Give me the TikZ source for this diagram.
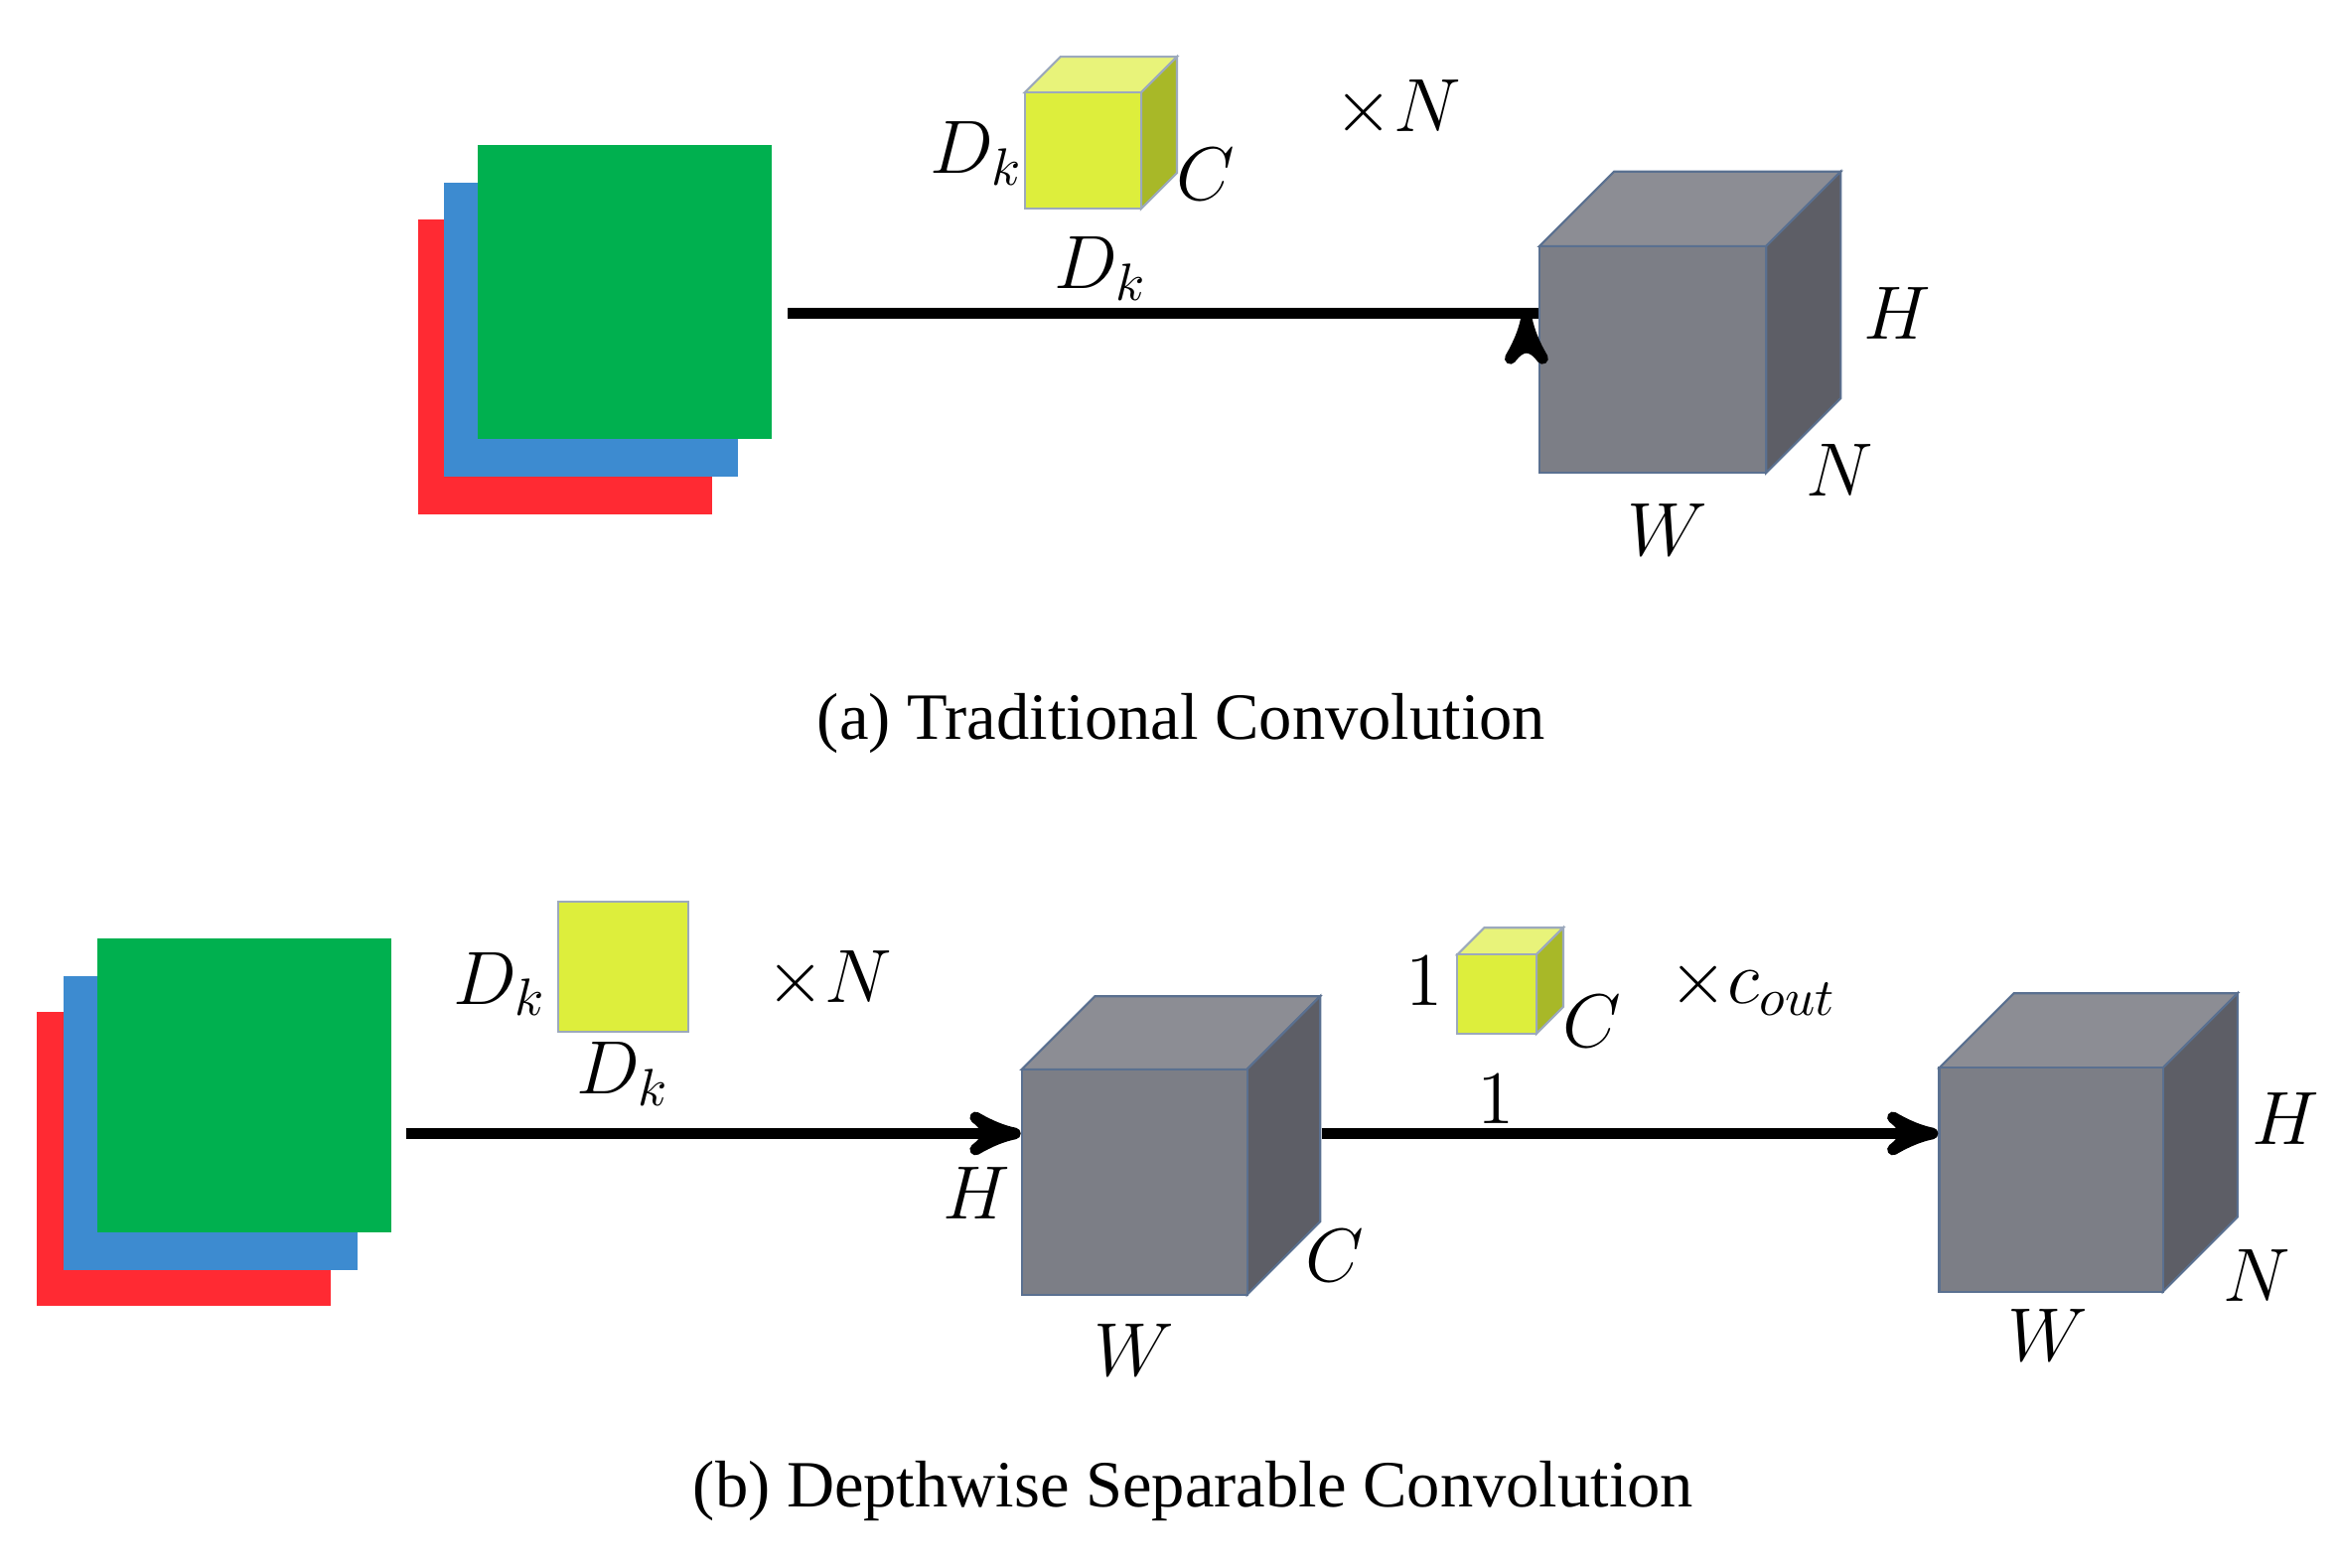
\documentclass[tikz,border=0pt]{standalone}
\usepackage{amsmath}
\usepackage{fontspec}
\setmainfont{Liberation Serif}
\usetikzlibrary{arrows,shapes,positioning}

\definecolor{mapred}{HTML}{FF2A33}
\definecolor{mapblue}{HTML}{3D8BD0}
\definecolor{mapgreen}{HTML}{00B04F}
\definecolor{kfront}{HTML}{DDEE3C}
\definecolor{ktop}{HTML}{E8F37A}
\definecolor{kside}{HTML}{A8B828}
\definecolor{gfront}{HTML}{7C7E86}
\definecolor{gtop}{HTML}{8C8D94}
\definecolor{gside}{HTML}{5D5E66}
\definecolor{gedge}{HTML}{5A7090}

\tikzset{
  sheet/.style={draw=none, minimum width=1.97cm, minimum height=1.97cm, inner sep=0},
  lbl/.style={font=\fontsize{14}{16}\selectfont},
  caption/.style={font=\fontsize{12.6}{15}\selectfont},
  flow/.style={->, >=stealth', line width=2.2pt}
}

% cube: name, front left x, front top y, size, depth, front, top, side, edge
\newcommand\drawcube[9]{
  \fill[#7, draw=#9] (#2,#3) -- ++(#5,-#5) -- ++(#4,0) -- ++(-#5,#5) -- cycle;
  \fill[#8, draw=#9] (#2+#4,#3) -- ++(#5,-#5) -- ++(0,#4) -- ++(-#5,#5) -- cycle;
  \node (#1) at (#2+#4/2,#3+#4/2) [fill=#6, draw=#9, minimum size=#4*0.01cm, inner sep=0] {};
}

\begin{document}
\begin{tikzpicture}[x=0.01cm, y=-0.01cm]
  \useasboundingbox (0,0) rectangle (1568,1051);

  % (a)
  \node (redA) at (379,246) [sheet, fill=mapred] {};
  \node (blueA) at (396,221) [sheet, fill=mapblue] {};
  \node (greenA) at (419,196) [sheet, fill=mapgreen] {};
  \drawcube{kernA}{687}{62}{78}{24}{kfront}{ktop}{kside}{gedge!60}
  \node[lbl] at (655,103) {$D_k$};
  \node[lbl] at (808,117) {$C$};
  \node[lbl] at (738,180) {$D_k$};
  \node[lbl] at (937,73) {$\times N$};
  \drawcube{outA}{1032}{165}{152}{50}{gfront}{gtop}{gside}{gedge}
  \node[lbl] at (1272,210) {$H$};
  \node[lbl] at (1233,315) {$N$};
  \node[lbl] at (1118,355) {$W$};
  \coordinate (startA) at (528,210);
  \draw[flow] (startA) -- (outA.west |- startA) ++(-8,0);
  \node[caption] at (792,485) {(a) Traditional Convolution};

  % (b)
  \node (redB) at (123,777) [sheet, fill=mapred] {};
  \node (blueB) at (141,753) [sheet, fill=mapblue] {};
  \node (greenB) at (164,728) [sheet, fill=mapgreen] {};
  \node (kernB) at (418,648) [fill=kfront, draw=gedge!60, minimum size=0.87cm, inner sep=0] {};
  \node[lbl] at (335,660) {$D_k$};
  \node[lbl] at (418,720) {$D_k$};
  \node[lbl] at (556,657) {$\times N$};
  \drawcube{midB}{685}{717}{151}{49}{gfront}{gtop}{gside}{gedge}
  \node[lbl] at (655,800) {$H$};
  \node[lbl] at (895,842) {$C$};
  \node[lbl] at (760,905) {$W$};
  \drawcube{pointB}{977}{640}{53}{18}{kfront}{ktop}{kside}{gedge!60}
  \node[lbl] at (955,658) {$1$};
  \node[lbl] at (1067,685) {$C$};
  \node[lbl] at (1003,737) {$1$};
  \node[lbl] at (1175,662) {$\times c_{out}$};
  \drawcube{outB}{1300}{716}{150}{50}{gfront}{gtop}{gside}{gedge}
  \node[lbl] at (1532,750) {$H$};
  \node[lbl] at (1513,855) {$N$};
  \node[lbl] at (1373,895) {$W$};
  \coordinate (startB) at (272,760);
  \coordinate (startC) at (886,760);
  \draw[flow] (startB) -- (midB.west |- startB);
  \draw[flow] (startC) -- (outB.west |- startC);
  \node[caption] at (800,1000) {(b) Depthwise Separable Convolution};
\end{tikzpicture}
\end{document}
